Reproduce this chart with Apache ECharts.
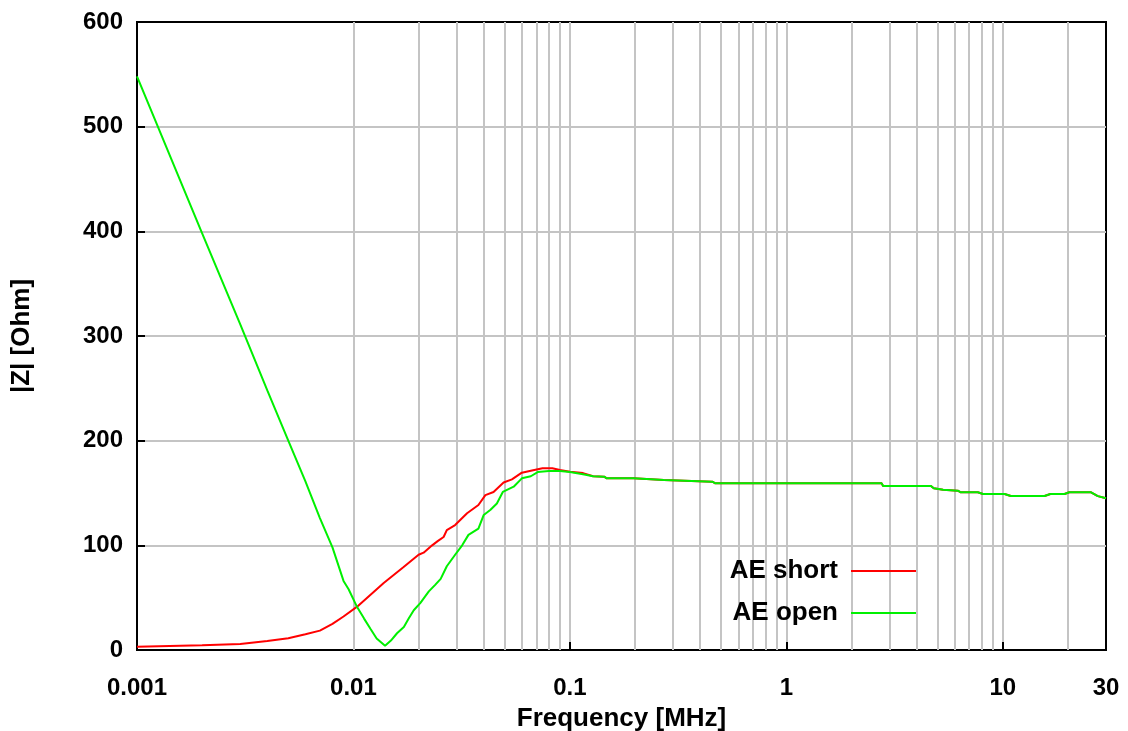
<!DOCTYPE html>
<html>
<head>
<meta charset="utf-8">
<script src="https://cdn.jsdelivr.net/npm/echarts@6/dist/echarts.min.js"></script>
<style>
  html, body { margin: 0; padding: 0; background: #fff; }
  #chart { width: 1128px; height: 731px; }
</style>
</head>
<body>
<div id="chart"></div>
<script>
// AE open: impedance |Z| vs frequency (MHz)
var openFreq = [0.001, 0.002, 0.003, 0.004, 0.005, 0.006, 0.007, 0.008, 0.009, 0.0095,
    0.0104, 0.0112, 0.012, 0.0128, 0.014, 0.0149, 0.0159, 0.0171, 0.018, 0.019,
    0.0204, 0.0223, 0.0238, 0.0253, 0.027, 0.0295, 0.0318, 0.034, 0.0378, 0.04,
    0.043, 0.046, 0.049, 0.055, 0.06, 0.066, 0.071, 0.08, 0.09, 0.1, 0.115];
var openZ = [548, 398, 311, 248, 200, 161, 126, 98, 66, 58,
    41, 30, 20, 11, 4, 9, 16, 22, 30, 38,
    45, 56, 62, 68, 80, 91, 100, 110, 116, 129,
    134, 140, 151, 156, 164, 166, 170, 171, 171, 170, 168];

// AE short
var shortFreq = [0.001, 0.002, 0.003, 0.004, 0.005, 0.006, 0.007, 0.008, 0.009, 0.0104,
    0.0138, 0.017, 0.02, 0.0211, 0.0231, 0.0245, 0.0261, 0.027, 0.0295, 0.0335,
    0.0378, 0.0407, 0.0444, 0.0494, 0.054, 0.06, 0.066, 0.0747, 0.083, 0.09, 0.1, 0.115];
var shortZ = [3.2, 4.5, 5.7, 8.6, 11.2, 15, 18.5, 25, 32, 41.4,
    64, 79, 91, 93, 100, 104, 108, 114.6, 119.4, 130.6,
    138.5, 148, 151, 160, 163, 169.4, 171.3, 173.6, 173.6, 172, 170.4, 169];

// both curves coincide above ~0.13 MHz
var tailFreq = [0.128, 0.144, 0.148, 0.197, 0.2, 0.272, 0.277, 0.455, 0.47, 2.76,
    2.8, 4.66, 4.8, 5.3, 6.2, 6.4, 7.67, 8.1, 10.2, 10.9,
    15.6, 16.6, 19.3, 20.3, 25.6, 27.5, 30];
var tailZ = [166, 165.6, 164, 164, 162.4, 162.4, 160.8, 160.8, 159.2, 159.2,
    156.7, 156.7, 154.5, 153, 152.2, 150.7, 150.7, 149, 149, 147.1,
    147.1, 149, 149, 150.7, 150.7, 147, 145];

var xLabels = ['0.001', '0.01', '0.1', '1', '10', '30'];
var seriesNames = ['AE short', 'AE open'];

function pairs(f, z){
    var out = [];
    for (var i = 0; i < f.length; i++) out.push([f[i], z[i]]);
    return out;
}

var shortData = pairs(shortFreq.concat(tailFreq), shortZ.concat(tailZ));
var openData = pairs(openFreq.concat(tailFreq), openZ.concat(tailZ));

// vertical grid at 2..9 of every decade (gnuplot style)
var minorLines = [];
[0.001, 0.01, 0.1, 1, 10].forEach(function(d){
    for (var k = 2; k <= 9; k++){
        var v = +(d * k).toPrecision(3);
        if (v < 30) minorLines.push({ xAxis: v });
    }
});

var FONT = '"Liberation Sans", Arial, sans-serif';
var GRAY = '#c4c4c4';

var chart = echarts.init(document.getElementById('chart'));
chart.setOption({
    animation: false,
    backgroundColor: '#fff',
    grid: {
        left: 137, right: 22, top: 22, bottom: 81,
        outerBoundsMode: 'none',
        containLabel: false,
        show: true, borderColor: '#000', borderWidth: 2
    },
    legend: {
        data: seriesNames,
        orient: 'vertical',
        align: 'right',
        right: 207,
        top: 553,
        z: 20,
        icon: 'rect',
        itemWidth: 65,
        itemHeight: 2,
        itemGap: 16,
        textStyle: { fontFamily: FONT, fontWeight: 'bold', fontSize: 26, color: '#000', padding: [0, 8, 0, 0] }
    },
    xAxis: {
        type: 'log',
        logBase: 10,
        min: 0.001,
        max: 30,
        name: 'Frequency [MHz]',
        nameLocation: 'middle',
        nameGap: 56,
        nameTextStyle: { fontFamily: FONT, fontWeight: 'bold', fontSize: 26, color: '#000' },
        axisLine: { lineStyle: { color: '#000', width: 2 } },
        axisTick: { inside: true, length: 8, lineStyle: { color: '#000', width: 2 } },
        axisLabel: {
            fontFamily: FONT, fontWeight: 'bold', fontSize: 24, color: '#000', margin: 26,
            formatter: function(v){
                var s = +v.toPrecision(3);
                var t = String(s);
                return xLabels.indexOf(t) >= 0 ? t : '';
            }
        },
        splitLine: { show: true, showMinLine: false, showMaxLine: false, lineStyle: { color: GRAY, width: 2 } }
    },
    yAxis: {
        type: 'value',
        min: 0,
        max: 600,
        interval: 100,
        name: '|Z| [Ohm]',
        nameLocation: 'middle',
        nameGap: 102,
        nameTextStyle: { fontFamily: FONT, fontWeight: 'bold', fontSize: 26, color: '#000' },
        axisLine: { show: true, lineStyle: { color: '#000', width: 2 } },
        axisTick: { show: true, inside: true, length: 8, lineStyle: { color: '#000', width: 2 } },
        axisLabel: { fontFamily: FONT, fontWeight: 'bold', fontSize: 24, color: '#000', margin: 14 },
        splitLine: { show: true, showMinLine: false, showMaxLine: false, lineStyle: { color: GRAY, width: 2 } }
    },
    series: [
        {
            // holder for the minor vertical grid lines
            type: 'line',
            data: [],
            z: 1,
            silent: true,
            markLine: {
                z: 1,
                silent: true,
                symbol: ['none', 'none'],
                label: { show: false },
                lineStyle: { color: GRAY, width: 2, type: 'solid' },
                emphasis: { disabled: true },
                data: minorLines
            }
        },
        {
            name: seriesNames[0],
            type: 'line',
            z: 3,
            symbol: 'none',
            lineStyle: { color: '#ff0000', width: 2 },
            itemStyle: { color: '#ff0000' },
            data: shortData
        },
        {
            name: seriesNames[1],
            type: 'line',
            z: 4,
            symbol: 'none',
            lineStyle: { color: '#00f000', width: 2 },
            itemStyle: { color: '#00f000' },
            data: openData
        }
    ]
});
</script>
</body>
</html>
